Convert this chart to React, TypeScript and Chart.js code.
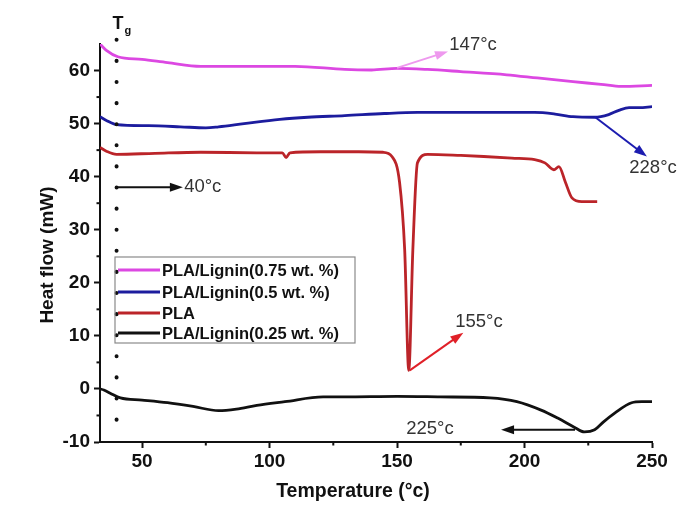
import { useEffect, useRef } from "react";
import { Chart, registerables } from "chart.js";

Chart.register(...registerables);

const FONT = "Arial, 'Liberation Sans', sans-serif";

// series: temperature (°C) / heat flow (mW)
const tempPink = [33.5, 36, 40.5, 50, 60, 73, 90, 110, 129.5, 140, 150, 162, 175, 193, 205, 219, 230, 238, 250];
const pink = [65, 63.8, 62.6, 62.1, 61.5, 60.8, 60.8, 60.8, 60.2, 60.1, 60.4, 60.2, 59.8, 59.2, 58.6, 57.9, 57.4, 57.0, 57.2];

const tempBlue = [33.5, 36, 40, 52.5, 65, 75, 80, 90, 104, 115, 129.5, 145, 158, 180, 204, 212, 219, 227.5, 233, 237, 241, 245, 250];
const blue = [51.3, 50.6, 49.8, 49.6, 49.4, 49.2, 49.4, 50.0, 50.8, 51.2, 51.5, 51.9, 52.1, 52.1, 52.1, 51.8, 51.3, 51.2, 51.7, 52.5, 53.0, 53.0, 53.2];

const tempRed = [33.5, 36, 40, 55, 73, 95, 105, 106.5, 108, 120, 135, 144.5, 148, 151, 153, 154.6, 156.2, 158, 162, 175, 184, 195, 204, 208, 211.5, 213.5, 216, 218.6, 222.5, 228.5];
const red = [45.5, 44.8, 44.2, 44.4, 44.6, 44.5, 44.5, 43.6, 44.5, 44.7, 44.7, 44.6, 43.8, 38.9, 26.2, 3.5, 26.2, 42.6, 44.2, 44.0, 43.8, 43.5, 43.2, 42.6, 41.3, 41.9, 39.0, 36.0, 35.3, 35.3];

const tempBlack = [33.5, 35, 37.5, 41.5, 50, 60, 70, 80, 87, 95, 106, 121, 129.5, 150, 167, 186.5, 197, 206.5, 213, 219.5, 223.5, 227.5, 231, 235.5, 242, 246, 250];
const black = [0, -0.2, -0.8, -1.7, -2.1, -2.6, -3.3, -4.1, -3.8, -3.1, -2.4, -1.5, -1.5, -1.4, -1.5, -1.7, -2.4, -4.0, -5.5, -7.2, -8.1, -7.7, -6.2, -4.5, -2.6, -2.4, -2.4];

const seriesLabels = ["PLA/Lignin(0.75 wt. %)", "PLA/Lignin(0.5 wt. %)", "PLA", "PLA/Lignin(0.25 wt. %)"];
const seriesColors = ["#dc48e2", "#1c1c9e", "#bb2429", "#111111"];

const xMinorTicks = [75, 125, 175, 225];
const yMinorTicks = [-5, 5, 15, 25, 35, 45, 55];

// annotation arrows: [x0, y0, x1, y1] in data units
const arrowLabels = ["40°c", "147°c", "228°c", "155°c", "225°c"];
const arrowColors = ["#111111", "#ee99ee", "#1c1cb0", "#e02028", "#111111"];
const arrowFrom = [[40, 38], [150, 60.5], [227.5, 51.3], [155, 3.5], [219.8, -7.7]];
const arrowTo = [[66, 38], [170, 63.6], [248, 43.8], [176, 10.6], [190.8, -7.7]];
const labelAt = [[66.5, 38], [170.5, 64.9], [250.4, 41.7], [172.8, 12.7], [153.6, -7.6]];
const labelAlign: CanvasTextAlign[] = ["left", "left", "center", "left", "left"];

const tgTemp = 40;
const tgRange = [-6, 65.8];

const toPoints = (xs: number[], ys: number[]) => xs.map((x, i) => ({ x, y: ys[i] }));

function arrow(ctx: CanvasRenderingContext2D, x0: number, y0: number, x1: number, y1: number, color: string) {
  const a = Math.atan2(y1 - y0, x1 - x0);
  const len = 13;
  const half = 4.5;
  ctx.save();
  ctx.strokeStyle = color;
  ctx.fillStyle = color;
  ctx.lineWidth = 2;
  ctx.beginPath();
  ctx.moveTo(x0, y0);
  ctx.lineTo(x1 - Math.cos(a) * len * 0.8, y1 - Math.sin(a) * len * 0.8);
  ctx.stroke();
  ctx.beginPath();
  ctx.moveTo(x1, y1);
  ctx.lineTo(x1 - Math.cos(a) * len - Math.sin(a) * half, y1 - Math.sin(a) * len + Math.cos(a) * half);
  ctx.lineTo(x1 - Math.cos(a) * len + Math.sin(a) * half, y1 - Math.sin(a) * len - Math.cos(a) * half);
  ctx.closePath();
  ctx.fill();
  ctx.restore();
}

const decorPlugin = {
  id: "decor",
  afterDraw(chart: Chart) {
    const { ctx, scales } = chart;
    const xs = scales.x;
    const ys = scales.y;
    const area = chart.chartArea;

    ctx.save();
    // minor ticks
    ctx.strokeStyle = "#111";
    ctx.lineWidth = 2;
    xMinorTicks.forEach((v) => {
      const px = xs.getPixelForValue(v);
      ctx.beginPath();
      ctx.moveTo(px, area.bottom);
      ctx.lineTo(px, area.bottom + 3.5);
      ctx.stroke();
    });
    yMinorTicks.forEach((v) => {
      const py = ys.getPixelForValue(v);
      ctx.beginPath();
      ctx.moveTo(area.left, py);
      ctx.lineTo(area.left - 3.5, py);
      ctx.stroke();
    });

    // Tg dotted line
    const tx = xs.getPixelForValue(tgTemp);
    ctx.setLineDash([0.1, 21]);
    ctx.lineCap = "round";
    ctx.lineWidth = 4;
    ctx.beginPath();
    ctx.moveTo(tx, ys.getPixelForValue(tgRange[1]));
    ctx.lineTo(tx, ys.getPixelForValue(tgRange[0]));
    ctx.stroke();
    ctx.setLineDash([]);
    ctx.lineCap = "butt";

    ctx.fillStyle = "#111";
    ctx.textBaseline = "middle";
    ctx.textAlign = "left";
    ctx.font = `bold 18px ${FONT}`;
    ctx.fillText("T", tx - 4, 24);
    ctx.font = `bold 11px ${FONT}`;
    ctx.fillText("g", tx + 8, 31);

    // arrows + labels
    arrowLabels.forEach((label, i) => {
      arrow(
        ctx,
        xs.getPixelForValue(arrowFrom[i][0]),
        ys.getPixelForValue(arrowFrom[i][1]),
        xs.getPixelForValue(arrowTo[i][0]),
        ys.getPixelForValue(arrowTo[i][1]),
        arrowColors[i]
      );
      ctx.fillStyle = "#333";
      ctx.font = `18.5px ${FONT}`;
      ctx.textAlign = labelAlign[i];
      ctx.fillText(label, xs.getPixelForValue(labelAt[i][0]), ys.getPixelForValue(labelAt[i][1]));
    });

    // axis titles
    ctx.fillStyle = "#111";
    ctx.font = `bold 19.5px ${FONT}`;
    ctx.textAlign = "center";
    ctx.fillText("Temperature (°c)", 353, 492);
    ctx.save();
    ctx.translate(48, 255);
    ctx.rotate(-Math.PI / 2);
    ctx.font = `bold 19px ${FONT}`;
    ctx.fillText("Heat flow (mW)", 0, 0);
    ctx.restore();

    // legend box
    const lx = 115;
    const ly = 257;
    ctx.strokeStyle = "#8a8a8a";
    ctx.lineWidth = 1.2;
    ctx.strokeRect(lx, ly, 240, 86);
    const rows = [270, 292, 313, 333];
    ctx.font = `bold 16.5px ${FONT}`;
    ctx.textAlign = "left";
    chart.data.datasets.forEach((ds, i) => {
      ctx.strokeStyle = seriesColors[i];
      ctx.lineWidth = 3;
      ctx.beginPath();
      ctx.moveTo(lx + 3, rows[i]);
      ctx.lineTo(lx + 45, rows[i]);
      ctx.stroke();
      ctx.fillStyle = "#111";
      ctx.fillText(String(ds.label), lx + 47, rows[i] + 1);
    });
    ctx.restore();
  },
};

export default function App() {
  const canvasRef = useRef<HTMLCanvasElement>(null);

  useEffect(() => {
    document.body.style.margin = "0";
    if (!canvasRef.current) return;
    const datasets = [
      toPoints(tempPink, pink),
      toPoints(tempBlue, blue),
      toPoints(tempRed, red),
      toPoints(tempBlack, black),
    ].map((data, i) => ({
      label: seriesLabels[i],
      data,
      borderColor: seriesColors[i],
      borderWidth: 2.8,
      pointRadius: 0,
      tension: 0.3,
      cubicInterpolationMode: "monotone" as const,
      fill: false,
    }));

    const chart = new Chart(canvasRef.current, {
      type: "line",
      data: { datasets },
      options: {
        responsive: false,
        animation: false,
        devicePixelRatio: 1,
        layout: { padding: { top: 44, right: 33, left: 0, bottom: 0 } },
        plugins: { legend: { display: false }, tooltip: { enabled: false } },
        scales: {
          x: {
            type: "linear",
            min: 33.5,
            max: 250,
            afterFit: (s) => {
              s.height = 66;
            },
            ticks: {
              stepSize: 50,
              includeBounds: false,
              color: "#111",
              padding: 2,
              maxRotation: 0,
              font: { family: FONT, size: 19, weight: "bold" },
            },
            grid: { drawOnChartArea: false, drawTicks: true, tickLength: 6, tickWidth: 2, tickColor: "#111" },
            border: { display: true, color: "#111", width: 2 },
          },
          y: {
            type: "linear",
            min: -10,
            max: 65,
            afterFit: (s) => {
              s.width = 100;
            },
            ticks: {
              stepSize: 10,
              includeBounds: false,
              color: "#111",
              padding: 4,
              font: { family: FONT, size: 19, weight: "bold" },
            },
            grid: { drawOnChartArea: false, drawTicks: true, tickLength: 6, tickWidth: 2, tickColor: "#111" },
            border: { display: true, color: "#111", width: 2 },
          },
        },
      },
      plugins: [decorPlugin],
    });
    return () => chart.destroy();
  }, []);

  return (
    <div style={{ position: "fixed", left: 0, top: 0, width: 685, height: 508, background: "#fff" }}>
      <canvas ref={canvasRef} width={685} height={508} />
    </div>
  );
}
